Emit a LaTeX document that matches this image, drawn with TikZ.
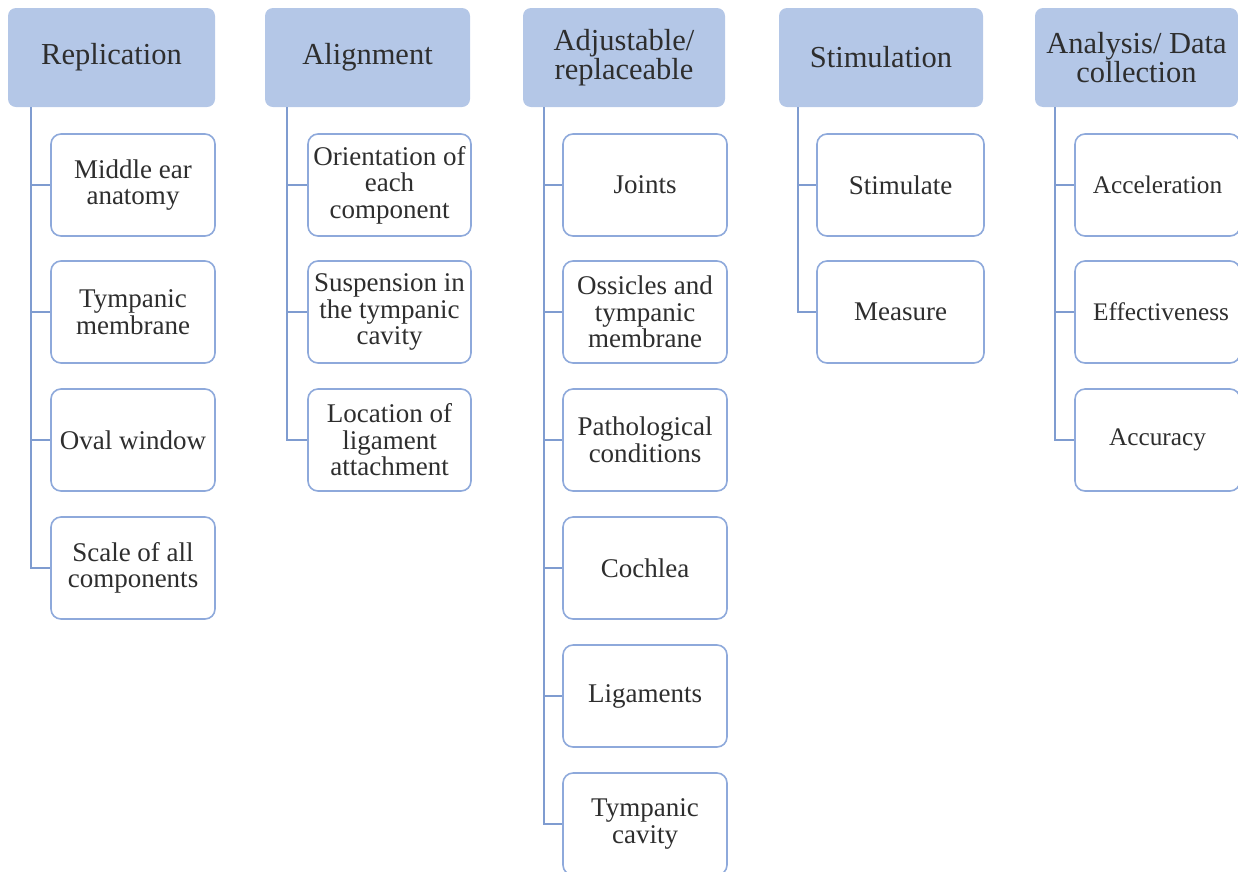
\documentclass[tikz,border=0pt]{standalone}
\usepackage{fontspec}
\setmainfont{Liberation Serif}
\definecolor{hdrfill}{HTML}{B4C7E7}
\definecolor{boxline}{HTML}{8EA9DB}
\definecolor{trunk}{HTML}{7F9CD0}
\definecolor{txt}{HTML}{2E2E2E}
\tikzset{
  hdr/.style={rectangle, rounded corners=8pt, fill=hdrfill, draw=none,
    minimum height=99pt, inner sep=0pt, align=center, text=txt,
    font=\fontsize{30.5}{28.5}\selectfont},
  child/.style={rectangle, rounded corners=10pt, fill=white, draw=boxline,
    line width=1.6pt, minimum width=164pt, minimum height=102pt, inner sep=0pt,
    align=center, text=txt, font=\fontsize{27}{26.5}\selectfont},
  smallchild/.style={child, font=\fontsize{25.3}{26.5}\selectfont},
  link/.style={draw=trunk, line width=1.6pt}
}
\begin{document}
\begin{tikzpicture}[x=1pt,y=-1pt]
\useasboundingbox (0,0) rectangle (1238,871);
% headers
\node[hdr, minimum width=207pt] (h1) at (111.5,57.5) {Replication};
\node[hdr, minimum width=205pt] (h2) at (367.5,57.5) {Alignment};
\node[hdr, minimum width=202pt] (h3) at (624,57.5) {Adjustable/\\replaceable};
\node[hdr, minimum width=204pt] (h4) at (881,57.5) {Stimulation};
\node[hdr, minimum width=203pt] (h5) at (1136.5,57.5) {Analysis/ Data\\collection};
% trunk starts
\coordinate (t1) at (31,107);
\coordinate (t2) at (287,107);
\coordinate (t3) at (544,107);
\coordinate (t4) at (798,107);
\coordinate (t5) at (1055,107);
% column 1
\node[child] (a1) at (133,185) {Middle ear\\anatomy};
\node[child] (a2) at (133,312) {Tympanic\\membrane};
\node[child] (a3) at (133,440) {Oval window};
\node[child] (a4) at (133,568) {Scale of all\\components};
% column 2
\node[child, minimum width=163pt] (b1) at (389.5,185) {Orientation of\\each\\component};
\node[child, minimum width=163pt] (b2) at (389.5,312) {Suspension in\\the tympanic\\cavity};
\node[child, minimum width=163pt] (b3) at (389.5,440) {Location of\\ligament\\attachment};
% column 3
\node[child] (c1) at (645,185) {Joints};
\node[child] (c2) at (645,312) {Ossicles and\\tympanic\\membrane};
\node[child] (c3) at (645,440) {Pathological\\conditions};
\node[child] (c4) at (645,568) {Cochlea};
\node[child] (c5) at (645,696) {Ligaments};
\node[child] (c6) at (645,824) {Tympanic\\cavity};
% column 4
\node[child, minimum width=167pt] (d1) at (900.5,185) {Stimulate};
\node[child, minimum width=167pt] (d2) at (900.5,312) {Measure};
% column 5
\node[smallchild, minimum width=165pt] (e1) at (1157.5,185) {Acceleration};
\node[smallchild, minimum width=165pt] (e2) at (1157.5,312) {\hspace*{7pt}Effectiveness};
\node[smallchild, minimum width=165pt] (e3) at (1157.5,440) {Accuracy};
% connectors
\foreach \c in {a1,a2,a3,a4} \draw[link] (t1) |- (\c.west);
\foreach \c in {b1,b2,b3} \draw[link] (t2) |- (\c.west);
\foreach \c in {c1,c2,c3,c4,c5,c6} \draw[link] (t3) |- (\c.west);
\foreach \c in {d1,d2} \draw[link] (t4) |- (\c.west);
\foreach \c in {e1,e2,e3} \draw[link] (t5) |- (\c.west);
\end{tikzpicture}
\end{document}
